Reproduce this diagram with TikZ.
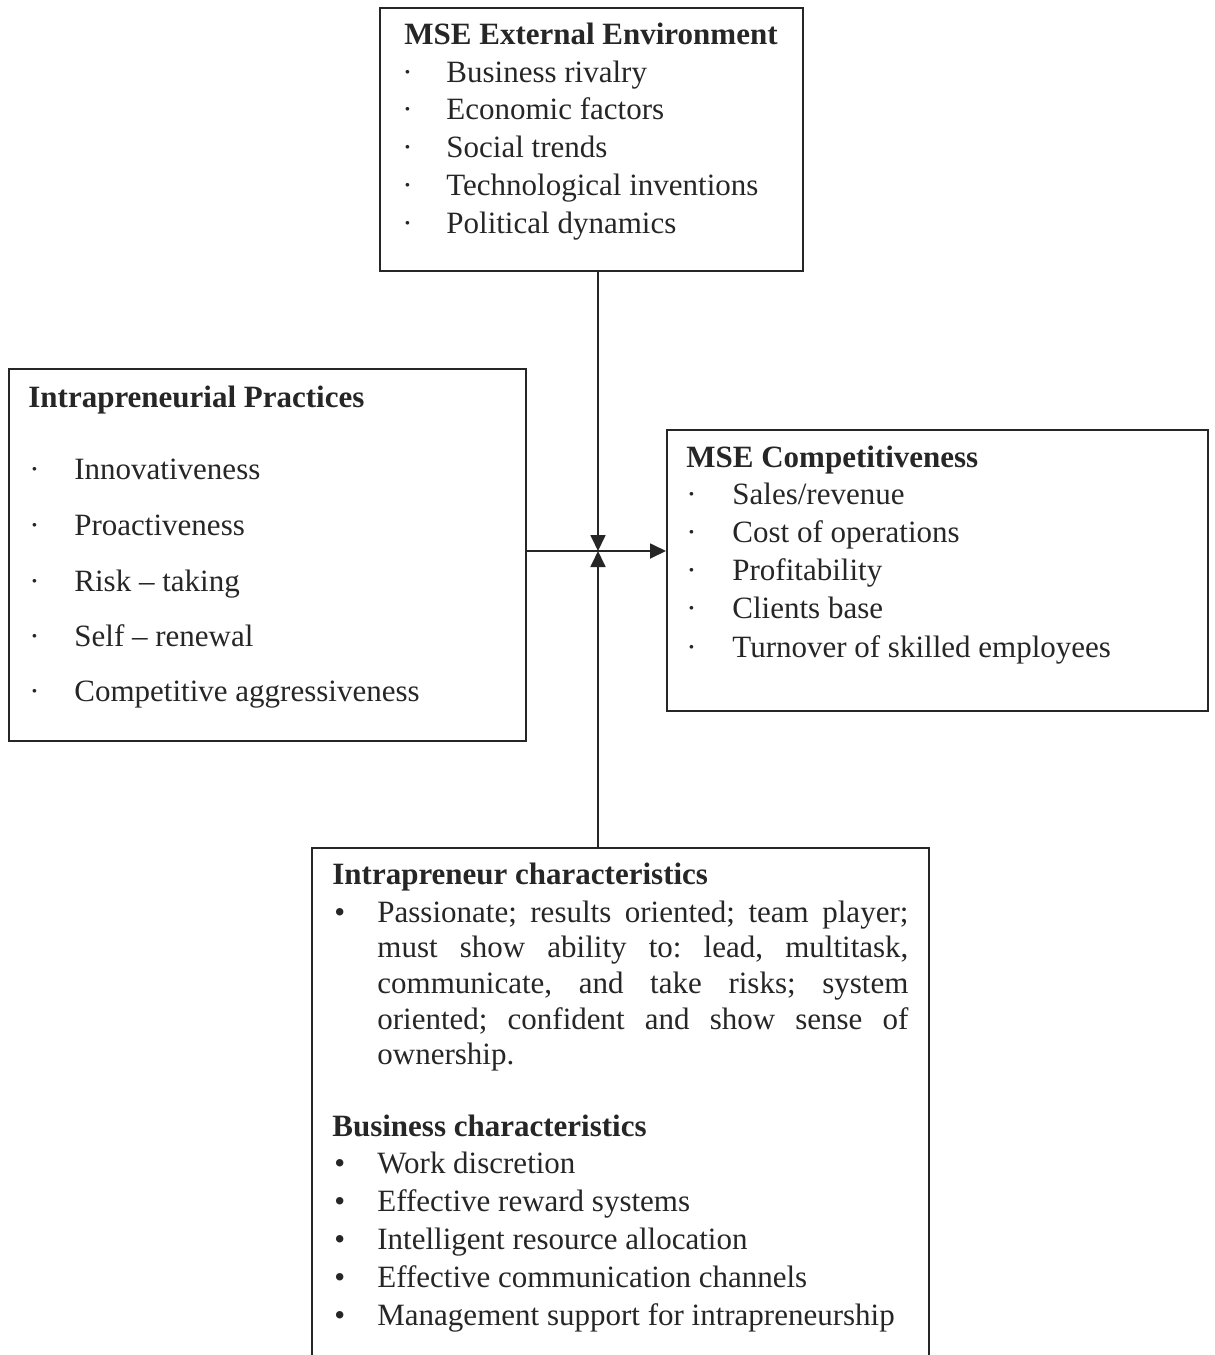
\documentclass[tikz,border=0pt]{standalone}
\usepackage{fontspec}
\setmainfont{Liberation Serif}
\usetikzlibrary{arrows.meta}
\frenchspacing
\begin{document}
\begin{tikzpicture}[x=0.5pt,y=-0.5pt,
  box/.style={draw=black!85, line width=0.9pt, anchor=north west, inner sep=0pt},
  txt/.style={anchor=base west, inner sep=0pt, font=\fontsize{15.5}{18}\selectfont, text=black!85},
  ttl/.style={txt, font=\fontsize{15.5}{18}\selectfont\bfseries},
  conn/.style={line width=0.9pt, draw=black!85},
  tip/.style={-{Triangle[length=8pt,width=7.5pt]}}]
\useasboundingbox (0,0) rectangle (1215,1355);
% boxes
\node[box, minimum width=211.5pt, minimum height=131.5pt] (top) at (379,7) {};
\node[box, minimum width=258.5pt, minimum height=186pt] (left) at (8,368) {};
\node[box, minimum width=270.5pt, minimum height=140.5pt] (right) at (666,429) {};
\node[box, minimum width=308.5pt, minimum height=262pt] (bot) at (311,847) {};
% hub
\coordinate (hub) at (598,551);
\draw[conn, tip] (left.east |- hub) -- (right.west |- hub);
\draw[conn, tip] (hub |- top.south) -- (hub);
\draw[conn, tip] (hub |- bot.north) -- (hub);
% top text
\node[ttl] (t0) at (404,44) {MSE External Environment};
\foreach \y/\t [count=\i] in {82/Business rivalry,119/Economic factors,157/Social trends,195/Technological inventions,233/Political dynamics}{
  \node[txt] (tb\i) at (402,\y) {·};
  \node[txt] (tt\i) at (446,\y) {\t};
}
% left text
\node[ttl] (l0) at (28,407) {Intrapreneurial Practices};
\foreach \y/\t [count=\i] in {479/Innovativeness,535/Proactiveness,591/Risk – taking,646/Self – renewal,701/Competitive aggressiveness}{
  \node[txt] (lb\i) at (29,\y) {·};
  \node[txt] (lt\i) at (74,\y) {\t};
}
% right text
\node[ttl] (r0) at (686,467) {MSE Competitiveness};
\foreach \y/\t [count=\i] in {504/{Sales/revenue},542/Cost of operations,580/Profitability,618/Clients base,657/Turnover of skilled employees}{
  \node[txt] (rb\i) at (686,\y) {·};
  \node[txt] (rt\i) at (732,\y) {\t};
}
% bottom text
\node[ttl] (b0) at (332,884) {Intrapreneur characteristics};
\node[txt] (bb0) at (334,922) {•};
\foreach \y/\t [count=\i] in {922/{Passionate; results oriented; team player;},957/{must show ability to: lead, multitask,},993/{communicate, and take risks; system},1029/{oriented; confident and show sense of}}{
  \node[txt] (bp\i) at (377,\y) {\makebox[265.5pt][s]{\t}};
}
\node[txt] (bp5) at (377,1064) {ownership.};
\node[ttl] (b1) at (332,1136) {Business characteristics};
\foreach \y/\t [count=\i] in {1173/Work discretion,1211/Effective reward systems,1249/Intelligent resource allocation,1287/Effective communication channels,1325/Management support for intrapreneurship}{
  \node[txt] (bbb\i) at (334,\y) {•};
  \node[txt] (bt\i) at (377,\y) {\t};
}
\end{tikzpicture}
\end{document}
